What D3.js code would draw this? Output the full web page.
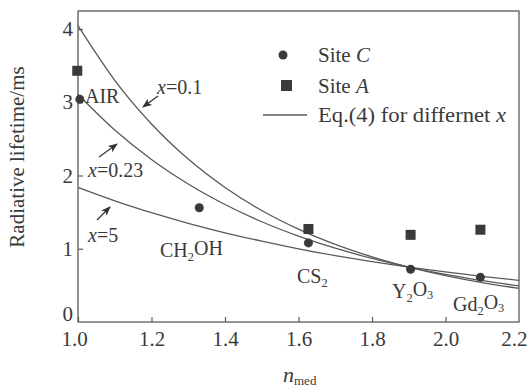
<!DOCTYPE html>
<html><head><meta charset="utf-8">
<script src="https://cdn.jsdelivr.net/npm/d3@7"></script>
<style>
body{margin:0;background:#fff;}
svg text{font-family:"Liberation Serif","Times New Roman",serif;fill:#3a3a3a;}
</style></head>
<body><svg id="c" width="529" height="387"></svg>
<script>
// ---- data ----
const nGrid = [1.0,1.1,1.2,1.3,1.4,1.5,1.6,1.7,1.8,1.9,2.0,2.1,2.2];
const tauX01  = [4.045,3.300,2.704,2.224,1.837,1.523,1.268,1.060,0.890,0.750,0.634,0.538,0.459];
const tauX023 = [3.107,2.622,2.219,1.884,1.604,1.369,1.173,1.007,0.868,0.750,0.649,0.564,0.492];
const tauX5   = [1.837,1.654,1.492,1.347,1.218,1.103,0.999,0.907,0.824,0.750,0.683,0.623,0.568];
const siteCn   = [1.005,1.33,1.627,1.905,2.095];
const siteCtau = [3.04,1.56,1.08,0.72,0.61];
const siteAn   = [0.998,1.627,1.905,2.095];
const siteAtau = [3.43,1.27,1.19,1.26];
const xTicks = [1.0,1.2,1.4,1.6,1.8,2.0,2.2];
const yTicks = [0,1,2,3,4];

const svg = d3.select("#c");
const L=78,R=519,T=11,B=322;
const x = d3.scaleLinear().domain([1.0,2.2]).range([L,R]);
const y = d3.scaleLinear().domain([0,4.246]).range([B,T]);
const ink="#595959";

// frame
svg.append("rect").attr("x",L).attr("y",T).attr("width",R-L).attr("height",B-T)
  .attr("fill","none").attr("stroke",ink).attr("stroke-width",1.3);

// axes (inward ticks)
const gx = svg.append("g").attr("transform",`translate(0,${B})`)
  .call(d3.axisBottom(x).tickValues(xTicks).tickFormat(d3.format(".1f")).tickSizeInner(-5).tickSizeOuter(0).tickPadding(9));
const gy = svg.append("g").attr("transform",`translate(${L},0)`)
  .call(d3.axisLeft(y).tickValues(yTicks).tickFormat(d3.format("d")).tickSizeInner(-5).tickSizeOuter(0).tickPadding(5));
[gx,gy].forEach(g=>{
  g.select(".domain").remove();
  g.selectAll("line").attr("stroke",ink).attr("stroke-width",1.2);
  g.selectAll("text").style("font-family","Liberation Serif, serif").style("font-size","21px").attr("fill","#3a3a3a");
});
gx.selectAll(".tick").filter(d=>d===2.2).select("line").remove();
gx.selectAll(".tick").filter(d=>d===2.2).select("text").attr("text-anchor","end").attr("x",8);
gx.selectAll(".tick").filter(d=>d===1.0).select("text").attr("x",-4);
gy.selectAll(".tick").filter(d=>d===0).select("line").remove();
gy.selectAll(".tick").filter(d=>d===0).select("text").attr("dy","-0.08em");

// curves
const line = d3.line().curve(d3.curveMonotoneX);
[tauX01,tauX023,tauX5].forEach(arr=>{
  svg.append("path").attr("d",line(nGrid.map((n,i)=>[x(n),y(arr[i])])))
    .attr("fill","none").attr("stroke",ink).attr("stroke-width",1.3);
});

// markers
const mk="#3a3a3a";
svg.selectAll("rect.sa").data(siteAn.map((n,i)=>[n,siteAtau[i]])).enter().append("rect")
  .attr("x",d=>x(d[0])-5).attr("y",d=>y(d[1])-5).attr("width",10).attr("height",10).attr("fill",mk);
svg.selectAll("circle.sc").data(siteCn.map((n,i)=>[n,siteCtau[i]])).enter().append("circle")
  .attr("cx",d=>x(d[0])).attr("cy",d=>y(d[1])).attr("r",4.5).attr("fill",mk);

// legend
svg.append("circle").attr("cx",283).attr("cy",55).attr("r",4.5).attr("fill",mk);
svg.append("rect").attr("x",281).attr("y",80).attr("width",11).attr("height",11).attr("fill",mk);
svg.append("line").attr("x1",263).attr("x2",307).attr("y1",115).attr("y2",115).attr("stroke",ink).attr("stroke-width",1.3);
function txt(xp,yp,parts,size){
  const t = svg.append("text").attr("x",xp).attr("y",yp).style("font-size",(size||21)+"px");
  parts.forEach(p=>{
    const s=t.append("tspan").text(p.t);
    if(p.i) s.style("font-style","italic");
    if(p.sub){ s.attr("dy","0.3em").style("font-size",((size||21)*0.62)+"px"); }
    if(p.up){ s.attr("dy","-0.3em"); }
  });
  return t;
}
txt(318,62,[{t:"Site "},{t:"C",i:1}]);
txt(318,93,[{t:"Site "},{t:"A",i:1}]);
txt(318,122,[{t:"Eq.(4) for differnet "},{t:"x",i:1}])
  .attr("textLength",188).attr("lengthAdjust","spacingAndGlyphs");

// annotations
txt(85,103,[{t:"AIR"}],20);
txt(157,94,[{t:"x",i:1},{t:"=0.1"}],20);
txt(88,177,[{t:"x",i:1},{t:"=0.23"}],20);
txt(88,242,[{t:"x",i:1},{t:"=5"}],20);
txt(160,257,[{t:"CH"},{t:"2",sub:1},{t:"OH",up:1}],20);
txt(297,283,[{t:"CS"},{t:"2",sub:1}],20);
txt(392,298,[{t:"Y"},{t:"2",sub:1},{t:"O",up:1},{t:"3",sub:1}],20);
txt(453,311,[{t:"Gd"},{t:"2",sub:1},{t:"O",up:1},{t:"3",sub:1}],20);

// arrows
const defs = svg.append("defs");
defs.append("marker").attr("id","ah").attr("viewBox","0 0 10 10").attr("refX",9).attr("refY",5)
  .attr("markerWidth",8).attr("markerHeight",8).attr("orient","auto")
  .append("path").attr("d","M0,1 L10,5 L0,9 L2.5,5 Z").attr("fill","#333");
[[158,96,143,107],[99,157,117,144],[97,220,110,207]].forEach(a=>{
  svg.append("line").attr("x1",a[0]).attr("y1",a[1]).attr("x2",a[2]).attr("y2",a[3])
    .attr("stroke","#333").attr("stroke-width",1.2).attr("marker-end","url(#ah)");
});

// axis titles
svg.append("text").attr("transform","translate(24,157) rotate(-90)").attr("text-anchor","middle")
  .style("font-size","21px").text("Radiative lifetime/ms");
const xt = svg.append("text").attr("x",283).attr("y",382).style("font-size","22px");
xt.append("tspan").text("n").style("font-style","italic");
xt.append("tspan").text("med").attr("dy","0.25em").style("font-size","13px");
</script></body></html>
